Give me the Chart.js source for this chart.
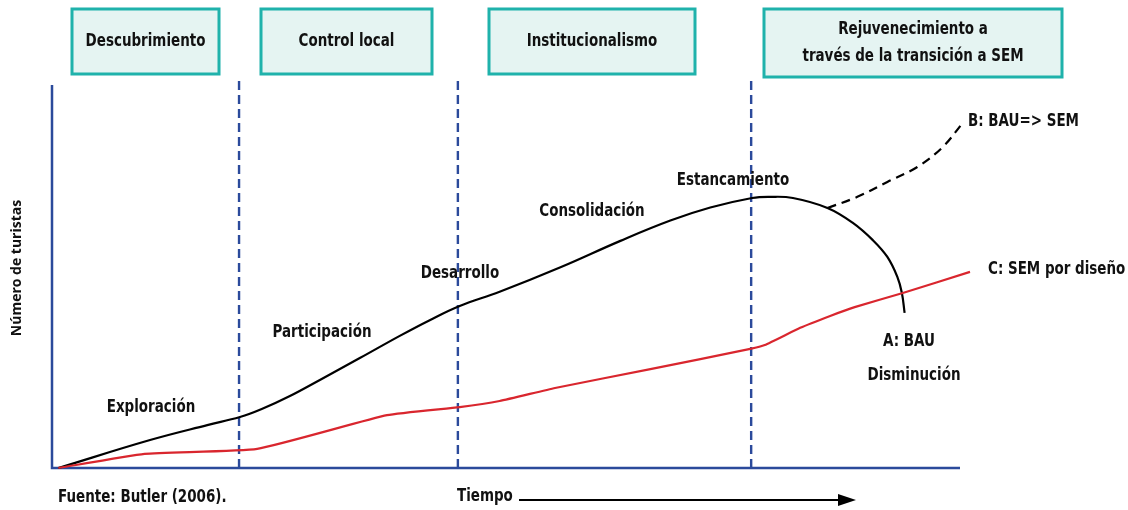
<!DOCTYPE html>
<html>
<head>
<meta charset="utf-8">
<script src="https://cdn.jsdelivr.net/npm/chart.js@4.4.1/dist/chart.umd.min.js"></script>
<style>
  html, body { margin: 0; padding: 0; background: #fff; }
  #wrap { width: 1128px; height: 510px; position: relative; }
</style>
</head>
<body>
<div id="wrap"><canvas id="c" width="1128" height="510"></canvas></div>
<script>
// curva A (BAU), x = tiempo, y = número de turistas (0-100)
const curveA_x = [0.7, 10.8, 17.1, 20.7, 23.1, 26.2, 29.5, 33.9, 38.3, 41.6, 44.9, 49.3, 56.0, 62.6, 68.1, 72.5, 77.1, 79.1, 81.6, 85.4, 88.2, 90.4, 92.0, 93.1, 93.6, 93.9];
const curveA_y = [0, 7.3, 11.2, 13.3, 15.4, 18.8, 23.0, 28.7, 34.5, 38.6, 42.3, 46.0, 52.4, 59.3, 64.6, 68.0, 70.5, 70.8, 70.5, 67.9, 64.0, 59.5, 55.1, 49.9, 45.7, 40.5];

// curva B (BAU => SEM), discontinua
const curveB_x = [85.4, 88.7, 92.0, 95.3, 98.1, 100.4];
const curveB_y = [67.9, 70.8, 74.7, 78.6, 83.8, 90.4];

// curva C (SEM por diseño)
const curveC_x = [0.7, 10.2, 22.6, 36.9, 44.9, 49.3, 55.4, 65.9, 76.9, 78.5, 82.4, 85.7, 88.4, 93.7, 101.1];
const curveC_y = [0, 3.7, 5.0, 13.8, 15.9, 17.5, 20.9, 25.8, 31.1, 32.1, 36.6, 39.7, 42.0, 45.7, 51.2];

// límites entre fases
const phaseBounds = [20.6, 44.7, 77.0];
const phaseNames = [['Descubrimiento'], ['Control local'], ['Institucionalismo'], ['Rejuvenecimiento a', 'través de la transición a SEM']];
const stageLabels = ['Exploración', 'Participación', 'Desarrollo', 'Consolidación', 'Estancamiento'];

const FONT = '"DejaVu Sans Condensed", "Liberation Sans Narrow", "Roboto", sans-serif';
const BLUE = '#2b4a9b';

function pts(xs, ys) { return xs.map((x, i) => ({ x: x, y: ys[i] })); }

// texto condensado (escala horizontal)
function txt(ctx, t, x, y, align) {
  const sx = 0.88;
  ctx.save();
  ctx.font = 'bold 17px ' + FONT;
  ctx.textBaseline = 'middle';
  ctx.textAlign = 'left';
  const w = ctx.measureText(t).width * sx;
  let left = x;
  if (align === 'center') left = x - w / 2;
  ctx.translate(left, y);
  ctx.scale(sx, 1);
  ctx.fillText(t, 0, 0);
  ctx.restore();
  return w;
}

const datasets = [
  { data: pts(curveC_x, curveC_y), borderColor: '#d9262e', borderWidth: 2.2, tension: 0.15, pointRadius: 0, clip: false },
  { data: pts(curveA_x, curveA_y), borderColor: '#000', borderWidth: 2.2, tension: 0.4, pointRadius: 0, clip: false },
  { data: pts(curveB_x, curveB_y), borderColor: '#000', borderWidth: 2.2, borderDash: [9, 6], tension: 0.35, pointRadius: 0, clip: false }
];
phaseBounds.forEach(b => {
  datasets.push({ data: [{ x: b, y: 0 }, { x: b, y: 101.3 }], borderColor: BLUE, borderWidth: 2.4, borderDash: [9, 5], pointRadius: 0, clip: false });
});

const deco = {
  id: 'deco',
  beforeDatasetsDraw(chart) {
    const ctx = chart.ctx, a = chart.chartArea;
    ctx.save();
    ctx.strokeStyle = BLUE;
    ctx.lineWidth = 2.5;
    ctx.beginPath();
    ctx.moveTo(a.left, a.top);
    ctx.lineTo(a.left, a.bottom);
    ctx.lineTo(a.right, a.bottom);
    ctx.stroke();
    ctx.restore();
  },
  afterDraw(chart) {
    const ctx = chart.ctx;
    ctx.save();
    // cajas de fases
    const boxes = [[72, 9, 147, 65], [261, 9, 171, 65], [489, 9, 206, 65], [764, 9, 298, 68]];
    boxes.forEach((b, i) => {
      ctx.fillStyle = '#e5f4f2';
      ctx.fillRect(b[0], b[1], b[2], b[3]);
      ctx.strokeStyle = '#1fb2ab';
      ctx.lineWidth = 3;
      ctx.strokeRect(b[0], b[1], b[2], b[3]);
      ctx.fillStyle = '#111';
      const lines = phaseNames[i];
      const cy = b[1] + b[3] / 2;
      lines.forEach((t, j) => txt(ctx, t, b[0] + b[2] / 2, cy + (j - (lines.length - 1) / 2) * 27, 'center'));
    });

    ctx.fillStyle = '#111';
    const stagePos = [[151, 408], [322, 333], [460, 274], [592, 212], [733, 181]];
    stageLabels.forEach((t, i) => txt(ctx, t, stagePos[i][0], stagePos[i][1], 'center'));
    txt(ctx, 'A: BAU', 909, 342, 'center');
    txt(ctx, 'Disminución', 914, 376, 'center');
    txt(ctx, 'B: BAU=> SEM', 968, 122, 'left');
    txt(ctx, 'C: SEM por diseño', 988, 270, 'left');
    txt(ctx, 'Fuente: Butler (2006).', 58, 498, 'left');
    txt(ctx, 'Tiempo', 457, 497, 'left');

    // flecha de tiempo
    ctx.strokeStyle = '#000';
    ctx.lineWidth = 2;
    ctx.beginPath();
    ctx.moveTo(519, 500);
    ctx.lineTo(840, 500);
    ctx.stroke();
    ctx.fillStyle = '#000';
    ctx.beginPath();
    ctx.moveTo(856, 500);
    ctx.lineTo(838, 494);
    ctx.lineTo(838, 506);
    ctx.closePath();
    ctx.fill();

    // título eje y
    ctx.translate(17, 268);
    ctx.rotate(-Math.PI / 2);
    ctx.textAlign = 'center';
    ctx.textBaseline = 'middle';
    ctx.font = 'bold 14px "Open Sans", sans-serif';
    ctx.fillStyle = '#111';
    ctx.fillText('Número de turistas', 0, 0);
    ctx.restore();
  }
};

new Chart(document.getElementById('c'), {
  type: 'line',
  data: { datasets: datasets },
  options: {
    responsive: false,
    animation: false,
    layout: { padding: { left: 52, right: 168, top: 85, bottom: 42 } },
    plugins: { legend: { display: false }, tooltip: { enabled: false } },
    scales: {
      x: { type: 'linear', min: 0, max: 100, display: false },
      y: { min: 0, max: 100, display: false }
    }
  },
  plugins: [deco]
});
</script>
</body>
</html>
